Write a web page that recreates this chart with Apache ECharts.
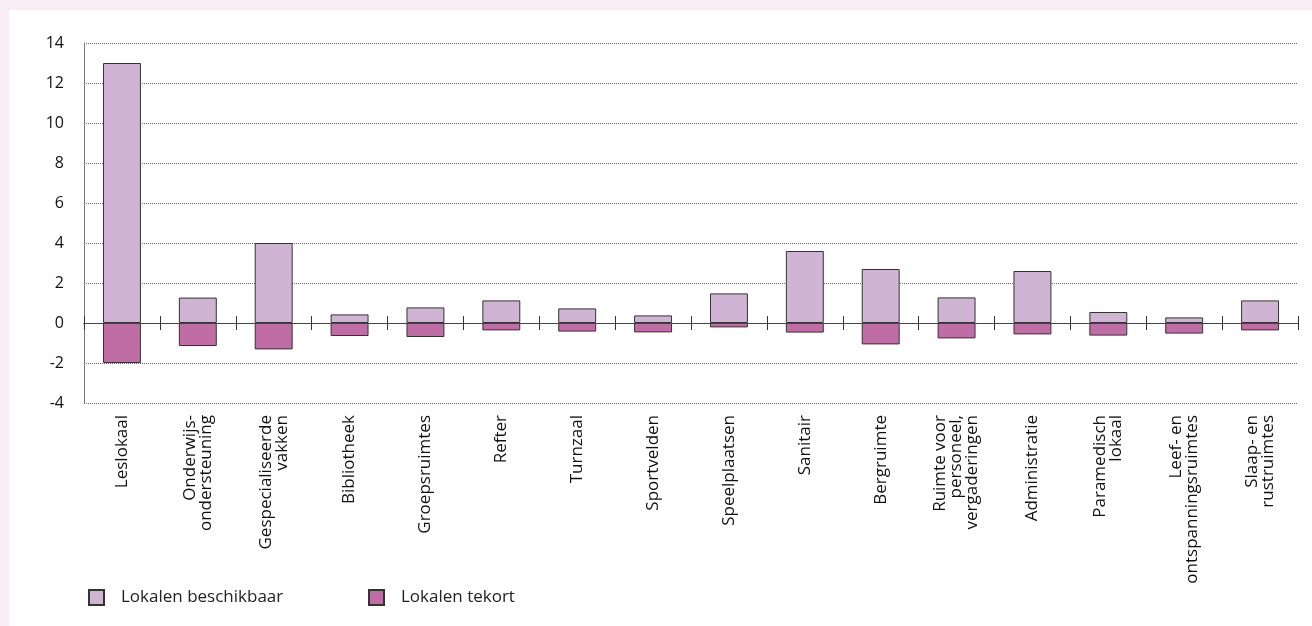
<!DOCTYPE html>
<html>
<head>
<meta charset="utf-8">
<script src="https://cdn.jsdelivr.net/npm/echarts@6/dist/echarts.min.js"></script>
<style>
  html, body { margin: 0; padding: 0; background: #f8edf3; }
  #main { position: absolute; left: 9px; top: 10px; width: 1303px; height: 616px; background: #fff; }
</style>
</head>
<body>
<div id="main"></div>
<script>
var categories = ['Leslokaal', 'Onderwijs-\nondersteuning', 'Gespecialiseerde\nvakken', 'Bibliotheek',
  'Groepsruimtes', 'Refter', 'Turnzaal', 'Sportvelden', 'Speelplaatsen', 'Sanitair', 'Bergruimte',
  'Ruimte voor\npersoneel,\nvergaderingen', 'Administratie', 'Paramedisch\nlokaal',
  'Leef- en\nontspanningsruimtes', 'Slaap- en\nrustruimtes'];
var beschikbaar = [13, 1.27, 4.0, 0.43, 0.78, 1.13, 0.73, 0.38, 1.48, 3.6, 2.7, 1.28, 2.6, 0.55, 0.28, 1.13];
var tekort = [-2, -1.15, -1.32, -0.65, -0.7, -0.37, -0.43, -0.47, -0.22, -0.48, -1.07, -0.77, -0.57, -0.63, -0.53, -0.37];
var seriesNames = ['Lokalen beschikbaar', 'Lokalen tekort'];

window.onload = function () {
  var myChart = echarts.init(document.getElementById('main'));
  var font = '"Open Sans", sans-serif';
  var legendText = { fontFamily: font, fontSize: 17, color: '#222', padding: [0, 0, 0, 12] };
  var option = {
    animation: false,
    grid: { left: 75, right: 14, top: 33, bottom: 223 },
    legend: [
      { data: [seriesNames[0]], left: 74, top: 574, icon: 'rect', itemWidth: 15, itemHeight: 15, textStyle: legendText },
      { data: [seriesNames[1]], left: 354, top: 574, icon: 'rect', itemWidth: 15, itemHeight: 15, textStyle: legendText }
    ],
    xAxis: [
      {
        type: 'category', data: categories, boundaryGap: true,
        axisLine: { onZero: true, onZeroAxisIndex: 0, lineStyle: { color: '#444', width: 1 } },
        axisTick: { show: true, interval: 0, length: 7, lineStyle: { color: '#333' } },
        axisLabel: { show: false },
        z: 5
      },
      {
        // second axis on the zero line, only to draw the upper half of the ticks
        type: 'category', data: categories, boundaryGap: true, position: 'top',
        axisLine: { show: true, onZero: true, onZeroAxisIndex: 1, lineStyle: { color: '#444', width: 1 } },
        axisTick: { show: true, interval: 0, length: 7, lineStyle: { color: '#333' } },
        axisLabel: { show: false },
        z: 5
      },
      {
        type: 'category', data: categories, boundaryGap: true, position: 'bottom',
        axisLine: { show: false, onZero: false },
        axisTick: { show: false },
        axisLabel: { interval: 0, rotate: 90, margin: 12, fontFamily: font, fontSize: 17,
          color: '#111', lineHeight: 16 }
      }
    ],
    yAxis: [
      {
        type: 'value', min: -4, max: 14, interval: 2,
        axisLine: { show: true, lineStyle: { color: '#777' } },
        axisTick: { show: false },
        axisLabel: { margin: 20, fontFamily: font, fontSize: 16, color: '#111' },
        splitLine: { lineStyle: { color: '#666', type: [1, 1], width: 1 } }
      },
      {
        type: 'value', min: -4, max: 14, interval: 2, position: 'right',
        axisLine: { show: false, onZero: false },
        axisTick: { show: false },
        axisLabel: { show: false },
        splitLine: { show: false }
      }
    ],
    series: [
      {
        name: seriesNames[0], type: 'bar', stack: 'a', data: beschikbaar, barWidth: '50%',
        itemStyle: { color: '#cfb4d4', borderColor: '#333', borderWidth: 1 }
      },
      {
        name: seriesNames[1], type: 'bar', stack: 'a', data: tekort, barWidth: '50%',
        itemStyle: { color: '#bf6da4', borderColor: '#333', borderWidth: 1 }
      }
    ]
  };
  myChart.setOption(option);
};
</script>
</body>
</html>
